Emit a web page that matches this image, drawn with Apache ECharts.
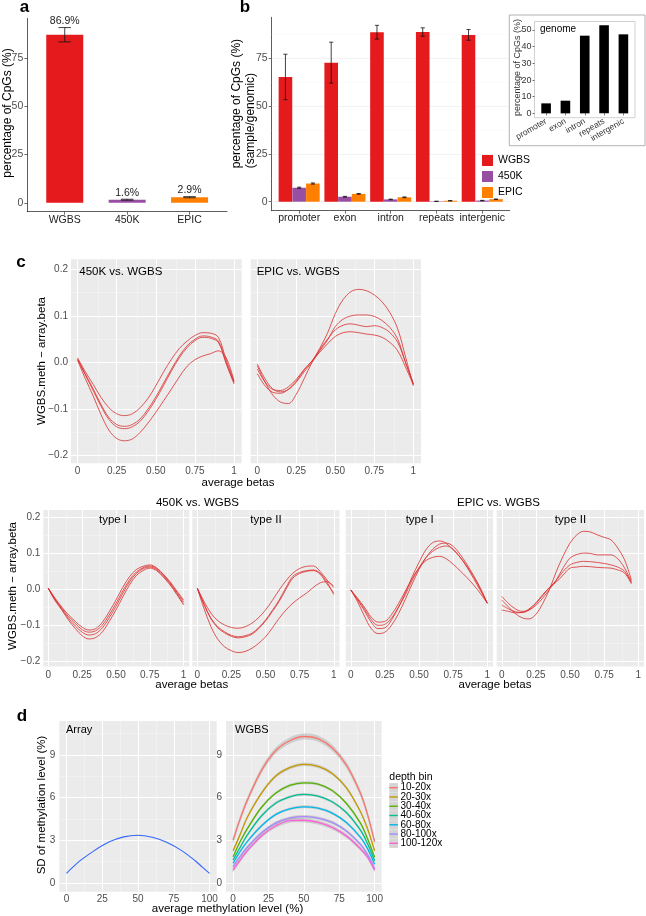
<!DOCTYPE html>
<html><head><meta charset="utf-8">
<script src="https://cdn.jsdelivr.net/npm/echarts/dist/echarts.min.js"></script>
<style>html,body{margin:0;padding:0;background:#fff}#c{width:646px;height:916px}</style>
</head><body><div id="c"></div>
<script>
// ---------------- DATA ----------------
const catA = ['WGBS', '450K', 'EPIC'];
const pctA = [86.9, 1.6, 2.9];
const errA = [3.7, 0.25, 0.3];

const regionsB = ['promoter', 'exon', 'intron', 'repeats', 'intergenic'];
const wgbsB = [65.2, 72.7, 88.6, 88.7, 87.2];
const wgbsErrB = [11.9, 10.7, 3.6, 2.2, 2.8];
const k450B = [7.3, 2.6, 1.2, 0.2, 0.6];
const k450ErrB = [0.3, 0.2, 0.15, 0.05, 0.1];
const epicB = [9.5, 4.1, 2.3, 0.5, 1.3];
const epicErrB = [0.3, 0.2, 0.2, 0.1, 0.1];
const genomeB = [6.0, 7.6, 46.6, 52.8, 47.4];

const betaX = [0,0.05,0.1,0.15,0.2,0.25,0.3,0.35,0.4,0.45,0.5,0.55,0.6,0.65,0.7,0.75,0.8,0.85,0.9,0.95,1.0];
const betaTicks = [0, 0.25, 0.5, 0.75, 1];
const betaTickLabels = ['0', '0.25', '0.50', '0.75', '1'];
const diffTicks = [-0.2, -0.1, 0, 0.1, 0.2];
const diffTickLabels = ['\u22120.2', '\u22120.1', '0.0', '0.1', '0.2'];

const k450All = [
  [0.010,-0.020,-0.047,-0.075,-0.097,-0.110,-0.114,-0.110,-0.097,-0.077,-0.050,-0.020,0.007,0.030,0.046,0.058,0.064,0.063,0.054,0.005,-0.040],
  [0.008,-0.025,-0.057,-0.090,-0.118,-0.133,-0.137,-0.133,-0.121,-0.100,-0.074,-0.044,-0.014,0.014,0.036,0.050,0.057,0.055,0.046,0.000,-0.043],
  [0.006,-0.027,-0.060,-0.094,-0.122,-0.138,-0.142,-0.138,-0.126,-0.105,-0.079,-0.049,-0.018,0.010,0.032,0.047,0.054,0.052,0.043,-0.003,-0.046],
  [0.005,-0.035,-0.072,-0.112,-0.145,-0.163,-0.168,-0.164,-0.150,-0.130,-0.107,-0.082,-0.057,-0.031,-0.008,0.006,0.014,0.019,0.025,0.010,-0.040]
];
const epicAll = [
  [-0.007,-0.042,-0.070,-0.085,-0.088,-0.068,-0.035,0.000,0.030,0.063,0.105,0.135,0.152,0.157,0.154,0.145,0.130,0.107,0.072,0.012,-0.050],
  [-0.003,-0.035,-0.057,-0.063,-0.058,-0.042,-0.020,0.000,0.025,0.048,0.077,0.093,0.100,0.102,0.102,0.099,0.090,0.075,0.050,0.000,-0.046],
  [-0.014,-0.042,-0.058,-0.060,-0.052,-0.036,-0.015,0.003,0.028,0.050,0.070,0.080,0.083,0.080,0.077,0.079,0.075,0.064,0.043,0.000,-0.045],
  [-0.024,-0.050,-0.064,-0.066,-0.057,-0.040,-0.016,0.003,0.022,0.040,0.056,0.064,0.066,0.064,0.061,0.059,0.054,0.043,0.025,-0.010,-0.048]
];
const k450TypeI = [
  [0.003,-0.025,-0.050,-0.072,-0.090,-0.106,-0.114,-0.110,-0.092,-0.063,-0.030,0.005,0.035,0.055,0.064,0.068,0.060,0.042,0.021,-0.005,-0.030],
  [0.003,-0.027,-0.053,-0.077,-0.096,-0.113,-0.120,-0.116,-0.100,-0.072,-0.040,-0.005,0.026,0.048,0.060,0.065,0.058,0.040,0.018,-0.008,-0.035],
  [0.002,-0.030,-0.056,-0.082,-0.103,-0.120,-0.128,-0.124,-0.108,-0.080,-0.048,-0.012,0.020,0.044,0.057,0.062,0.055,0.037,0.015,-0.012,-0.040],
  [0.002,-0.032,-0.058,-0.087,-0.110,-0.130,-0.139,-0.135,-0.119,-0.090,-0.058,-0.022,0.012,0.038,0.052,0.059,0.052,0.034,0.012,-0.015,-0.044]
];
const k450TypeII = [
  [0.003,-0.035,-0.067,-0.088,-0.100,-0.107,-0.109,-0.105,-0.095,-0.079,-0.058,-0.031,-0.002,0.024,0.045,0.058,0.064,0.065,0.050,0.026,0.005],
  [0.003,-0.042,-0.081,-0.105,-0.119,-0.129,-0.133,-0.130,-0.123,-0.107,-0.086,-0.059,-0.030,0.005,0.036,0.047,0.052,0.054,0.045,0.020,-0.015],
  [0.002,-0.044,-0.083,-0.108,-0.122,-0.132,-0.136,-0.133,-0.126,-0.110,-0.089,-0.062,-0.034,0.000,0.031,0.044,0.050,0.052,0.042,0.015,-0.010],
  [0.002,-0.055,-0.105,-0.140,-0.161,-0.172,-0.177,-0.174,-0.165,-0.151,-0.133,-0.108,-0.081,-0.058,-0.039,-0.024,-0.011,0.005,0.018,0.021,0.008]
];
const epicTypeI = [
  [-0.002,-0.030,-0.060,-0.092,-0.110,-0.108,-0.085,-0.050,-0.010,0.035,0.075,0.110,0.130,0.135,0.128,0.110,0.090,0.065,0.035,0.000,-0.039],
  [-0.002,-0.035,-0.075,-0.110,-0.124,-0.120,-0.100,-0.068,-0.028,0.015,0.055,0.088,0.112,0.126,0.129,0.120,0.098,0.070,0.038,0.003,-0.039],
  [-0.002,-0.028,-0.055,-0.085,-0.101,-0.098,-0.080,-0.050,-0.015,0.025,0.060,0.088,0.106,0.117,0.121,0.112,0.090,0.062,0.030,-0.004,-0.039],
  [-0.002,-0.025,-0.050,-0.078,-0.092,-0.090,-0.070,-0.040,-0.005,0.030,0.060,0.080,0.089,0.092,0.085,0.070,0.052,0.033,0.012,-0.012,-0.039]
];
const epicTypeII = [
  [-0.030,-0.050,-0.068,-0.080,-0.083,-0.070,-0.040,0.000,0.050,0.093,0.129,0.152,0.162,0.160,0.152,0.145,0.138,0.115,0.082,0.025],
  [-0.020,-0.040,-0.055,-0.062,-0.058,-0.045,-0.025,0.000,0.026,0.060,0.087,0.097,0.101,0.100,0.096,0.096,0.096,0.085,0.059,0.020],
  [-0.044,-0.055,-0.063,-0.065,-0.058,-0.040,-0.018,0.005,0.025,0.050,0.068,0.075,0.078,0.077,0.075,0.072,0.068,0.062,0.050,0.018],
  [-0.058,-0.062,-0.066,-0.065,-0.055,-0.038,-0.015,0.005,0.020,0.040,0.059,0.062,0.064,0.063,0.061,0.060,0.059,0.054,0.045,0.015]
];

const methX = [0,5,10,20,30,40,50,60,70,80,90,95,100];
const methTicks = [0, 25, 50, 75, 100];
const sdTicks = [0, 3, 6, 9];
const arraySD = [0.66,1.15,1.59,2.30,2.88,3.23,3.35,3.20,2.85,2.30,1.55,1.10,0.66];
const depthBins = ['10-20x','20-30x','30-40x','40-60x','60-80x','80-100x','100-120x'];
const depthSD = [
  [3.00,4.50,5.80,7.90,9.30,10.00,10.30,10.15,9.50,8.30,6.30,4.80,2.90],
  [2.25,3.40,4.60,6.30,7.50,8.10,8.34,8.20,7.70,6.70,5.00,3.80,2.25],
  [1.83,2.90,3.80,5.30,6.30,6.85,7.04,6.95,6.50,5.60,4.20,3.10,1.80],
  [1.60,2.50,3.35,4.70,5.60,6.05,6.22,6.10,5.70,4.95,3.70,2.75,1.55],
  [1.37,2.20,2.90,4.00,4.80,5.20,5.35,5.25,4.90,4.25,3.20,2.40,1.30],
  [1.13,1.85,2.50,3.50,4.20,4.55,4.65,4.55,4.25,3.65,2.70,2.00,1.00],
  [0.90,1.60,2.25,3.30,4.00,4.38,4.40,4.25,3.90,3.30,2.40,1.80,0.90]
];
const depthCI = [0.22, 0.12, 0.1, 0.1, 0.1, 0.12, 0.15];

// ---------------- STYLE ----------------
const FONT = "'Liberation Sans', Arial, Helvetica, sans-serif";
const TICK = '#4D4D4D';
const colA = ['#E41A1C', '#984EA3', '#FF7F00'];
const depthCol = ['#F8766D','#C49A00','#53B400','#00C094','#00B6EB','#A58AFF','#FB61D7'];
const RED = '#DA2C2C';

const grids = [], xAxis = [], yAxis = [], series = [], graphic = [];

function lab(vals, labels, o) {
  return Object.assign({show: true, customValues: vals, color: TICK, fontSize: 10, fontFamily: FONT, margin: 4,
    formatter: function (v) { const i = vals.findIndex(t => Math.abs(t - v) < 1e-9); return i >= 0 ? labels[i] : ''; }}, o || {});
}
function tck(vals, o) {
  return Object.assign({show: true, customValues: vals, length: 3, inside: false, lineStyle: {color: '#333', width: 0.7}}, o || {});
}
function ax(min, max, o) {
  return Object.assign({type: 'value', min: min, max: max, splitLine: {show: false}, axisLine: {show: false},
    axisTick: {show: false}, axisLabel: {show: false}, minorTick: {show: false}, minorSplitLine: {show: false}}, o || {});
}
function addGrid(box, xa, ya, g) {
  const i = grids.length;
  grids.push(Object.assign({left: box[0], top: box[1], width: box[2], height: box[3], containLabel: false,
    outerBoundsMode: 'none', show: false, z: 0}, g || {}));
  xa.gridIndex = i; ya.gridIndex = i;
  xAxis.push(xa); yAxis.push(ya);
  return i;
}
const axLine = {show: true, onZero: false, lineStyle: {color: '#333', width: 0.8}};
function gridLines(i, xMaj, xMin, yMaj, yMin, cMaj, cMin, wMaj, wMin) {
  const d = [];
  xMin.forEach(v => d.push({xAxis: v, lineStyle: {color: cMin, width: wMin, type: 'solid'}}));
  yMin.forEach(v => d.push({yAxis: v, lineStyle: {color: cMin, width: wMin, type: 'solid'}}));
  xMaj.forEach(v => d.push({xAxis: v, lineStyle: {color: cMaj, width: wMaj, type: 'solid'}}));
  yMaj.forEach(v => d.push({yAxis: v, lineStyle: {color: cMaj, width: wMaj, type: 'solid'}}));
  series.push({type: 'line', xAxisIndex: i, yAxisIndex: i, data: [], z: 1, silent: true,
    markLine: {z: 1, zlevel: 0, silent: true, symbol: ['none', 'none'], label: {show: false}, animation: false, data: d}});
}
function curve(i, xs, ys, color, w, z) {
  series.push({type: 'line', xAxisIndex: i, yAxisIndex: i, data: ys.map((y, k) => [xs[k], y]),
    showSymbol: false, symbol: 'none', smooth: 0.35, silent: true, z: z || 6,
    lineStyle: {color: color, width: w}, emphasis: {disabled: true}});
}
function errBars(i, xs, mid, err, capW, labels) {
  series.push({type: 'custom', xAxisIndex: i, yAxisIndex: i, z: 5, silent: true,
    data: xs.map((x, k) => [x, mid[k] - err[k], mid[k] + err[k]]),
    encode: {x: 0, y: [1, 2]},
    renderItem: function (params, api) {
      const x = api.value(0), lo = api.value(1), hi = api.value(2);
      const p1 = api.coord([x, lo]), p2 = api.coord([x, hi]);
      const hw = api.size([capW, 0])[0] / 2;
      const st = {stroke: '#111', lineWidth: 0.8};
      const ch = [
        {type: 'line', shape: {x1: p1[0], y1: p1[1], x2: p2[0], y2: p2[1]}, style: st},
        {type: 'line', shape: {x1: p1[0] - hw, y1: p1[1], x2: p1[0] + hw, y2: p1[1]}, style: st},
        {type: 'line', shape: {x1: p2[0] - hw, y1: p2[1], x2: p2[0] + hw, y2: p2[1]}, style: st}
      ];
      if (labels) ch.push({type: 'text', x: p2[0], y: p2[1] - 6.5,
        style: {text: labels[params.dataIndex], fill: '#222', fontSize: 10.5, fontFamily: FONT,
          align: 'center', textAlign: 'center', verticalAlign: 'middle', textVerticalAlign: 'middle'}});
      return {type: 'group', children: ch};
    }});
}
function txt(t, x, y, o) {
  o = o || {};
  graphic.push({type: 'text', x: x, y: y, rotation: o.rot || 0, z: 100, silent: true,
    style: {text: t, fill: o.color || '#000', fontSize: o.size || 11.5, fontFamily: FONT, fontWeight: o.weight || 'normal',
      align: o.align || 'center', textAlign: o.align || 'center', verticalAlign: 'middle', textVerticalAlign: 'middle'}});
}
const ROT = Math.PI / 2;

// ---------- panel a ----------
const gA = addGrid([27.3, 18.3, 199.7, 193.4],
  ax(0.4, 3.6, {axisLine: axLine, axisTick: tck([1, 2, 3]), axisLabel: lab([1, 2, 3], catA, {margin: 3, color: '#222', fontSize: 10.5})}),
  ax(-4.6, 95.4, {axisLine: axLine, axisTick: tck([0, 25, 50, 75]), axisLabel: lab([0, 25, 50, 75], ['0', '25', '50', '75'], {fontSize: 10.5})}));
series.push({type: 'bar', name: 'CpG coverage', xAxisIndex: gA, yAxisIndex: gA, barWidth: 37, z: 3, silent: true,
  data: pctA.map((v, k) => ({value: [k + 1, v], itemStyle: {color: colA[k]}}))});
errBars(gA, [1, 2, 3], pctA, errA, 0.2, pctA.map(v => v.toFixed(1) + '%'));

// ---------- panel b ----------
const posB = regionsB.map((r, k) => k + 1);
const gB = addGrid([271.7, 17.3, 238, 193.4],
  ax(0.4, 5.6, {axisLine: axLine, axisTick: tck(posB), axisLabel: lab(posB, regionsB, {margin: 2, color: '#222', fontSize: 10.5})}),
  ax(-4.7, 96.4, {axisLine: axLine, axisTick: tck([0, 25, 50, 75]), axisLabel: lab([0, 25, 50, 75], ['0', '25', '50', '75'], {fontSize: 10.5})}));
gridLines(gB, [], [], [0, 25, 50, 75], [12.5, 37.5, 62.5, 87.5], '#EDEDED', '#F6F6F6', 0.7, 0.5);
[['WGBS', wgbsB, -0.3, wgbsErrB], ['450K', k450B, 0, k450ErrB], ['EPIC', epicB, 0.3, epicErrB]].forEach((s, j) => {
  series.push({type: 'bar', name: s[0], xAxisIndex: gB, yAxisIndex: gB, barWidth: 13.6, barGap: '-100%', z: 3, silent: true,
    itemStyle: {color: colA[j]}, data: s[1].map((v, k) => [posB[k] + s[2], v])});
  errBars(gB, posB.map(p => p + s[2]), s[1], s[3], 0.09, null);
});

// ---------- inset genome ----------
graphic.push({type: 'rect', z: 50, silent: true, shape: {x: 509.3, y: 15, width: 135.7, height: 130.7},
  style: {fill: 'none', stroke: '#A0A0A0', lineWidth: 0.8}});
const gI = addGrid([534.5, 21.5, 100.5, 96.2],
  ax(0.4, 5.6, {axisTick: tck(posB, {length: 2}), axisLabel: lab(posB, regionsB, {rotate: 30, fontSize: 8.5, margin: 3, color: '#333'})}),
  ax(-2.6, 55.1, {axisTick: tck([0, 10, 20, 30, 40, 50], {length: 2}), axisLabel: lab([0, 10, 20, 30, 40, 50], ['0', '10', '20', '30', '40', '50'], {fontSize: 9, margin: 3, color: '#333'})}),
  {show: true, backgroundColor: 'transparent', borderColor: '#BDBDBD', borderWidth: 0.7});
series.push({type: 'bar', name: 'genome', xAxisIndex: gI, yAxisIndex: gI, barWidth: 9.6, z: 3, silent: true,
  itemStyle: {color: '#000'}, data: genomeB.map((v, k) => [posB[k], v])});

// ---------- panel c (top) ----------
const cBoxTop = [[71, 259.3, 170.7, 204], [250.7, 259.3, 170.3, 204]];
const cTopData = [k450All, epicAll];
cBoxTop.forEach((b, j) => {
  const g = addGrid(b,
    ax(-0.042, 1.049, {axisTick: tck(betaTicks, {length: 2}), axisLabel: lab(betaTicks, betaTickLabels, {margin: 3})}),
    ax(-0.2163, 0.2215, j === 0 ? {axisTick: tck(diffTicks, {length: 2}), axisLabel: lab(diffTicks, diffTickLabels, {margin: 3})} : {}),
    {show: true, backgroundColor: '#EBEBEB', borderWidth: 0});
  gridLines(g, betaTicks, [0.125, 0.375, 0.625, 0.875], diffTicks, [-0.15, -0.05, 0.05, 0.15], '#FFFFFF', '#F6F6F6', 1, 0.5);
  cTopData[j].forEach(ys => curve(g, betaX, ys, RED, 0.8));
});

// ---------- panel c (bottom) ----------
const cBoxBot = [[43.3, 510, 146, 156.6], [192.3, 510, 147.2, 156.6], [345.7, 510, 147.3, 156.6], [496.7, 510, 147.3, 156.6]];
const cBotData = [k450TypeI, k450TypeII, epicTypeI, epicTypeII];
cBoxBot.forEach((b, j) => {
  const g = addGrid(b,
    ax(-0.037, 1.042, {axisTick: tck(betaTicks, {length: 2}), axisLabel: lab(betaTicks, betaTickLabels, {margin: 4})}),
    ax(-0.2163, 0.2215, j === 0 ? {axisTick: tck(diffTicks, {length: 2}), axisLabel: lab(diffTicks, diffTickLabels, {margin: 3})} : {}),
    {show: true, backgroundColor: '#EBEBEB', borderWidth: 0});
  gridLines(g, betaTicks, [0.125, 0.375, 0.625, 0.875], diffTicks, [-0.15, -0.05, 0.05, 0.15], '#FFFFFF', '#F6F6F6', 1, 0.5);
  cBotData[j].forEach(ys => curve(g, betaX, ys, RED, 0.8));
});

// ---------- panel d ----------
const dBox = [[59.3, 721, 157.4, 170.7], [226, 721, 155.7, 170.7]];
const gD = dBox.map(b => {
  const g = addGrid(b,
    ax(-5, 105, {axisTick: tck(methTicks, {length: 2}), axisLabel: lab(methTicks, methTicks.map(String), {margin: 3})}),
    ax(-0.63, 11.39, {axisTick: tck(sdTicks, {length: 2}), axisLabel: lab(sdTicks, sdTicks.map(String), {margin: 4})}),
    {show: true, backgroundColor: '#EBEBEB', borderWidth: 0});
  gridLines(g, methTicks, [12.5, 37.5, 62.5, 87.5], sdTicks, [1.5, 4.5, 7.5, 10.5], '#FFFFFF', '#F6F6F6', 1, 0.5);
  return g;
});
curve(gD[0], methX, arraySD, '#3366FF', 1.1);
depthBins.forEach((name, k) => {
  const vals = depthSD[k], h = depthCI[k];
  series.push({type: 'custom', xAxisIndex: gD[1], yAxisIndex: gD[1], z: 4, silent: true,
    data: methX.map((x, j) => [x, vals[j] - h, vals[j] + h]), encode: {x: 0, y: [1, 2]},
    renderItem: function (params, api) {
      if (params.dataIndex !== 0) return null;
      const up = [], lo = [];
      for (let j = 0; j < methX.length; j++) {
        up.push(api.coord([methX[j], vals[j] + h]));
        lo.push(api.coord([methX[j], vals[j] - h]));
      }
      return {type: 'polygon', shape: {points: up.concat(lo.reverse()), smooth: 0.3},
        style: {fill: 'rgba(150,150,150,0.35)', stroke: 'none'}};
    }});
  curve(gD[1], methX, vals, depthCol[k], 1.3, 7);
});
// depth legend
txt('depth bin', 389.3, 776.7, {align: 'left', size: 10.5});
depthBins.forEach((name, k) => {
  const yy = 787.7 + k * 9.27;
  graphic.push({type: 'rect', z: 100, silent: true, shape: {x: 389.3, y: yy - 4.6, width: 8.6, height: 9.2}, style: {fill: '#D4D4D4'}});
  graphic.push({type: 'line', z: 101, silent: true, shape: {x1: 389.3, y1: yy, x2: 397.9, y2: yy}, style: {stroke: depthCol[k], lineWidth: 1.4}});
  txt(name, 400.5, yy, {align: 'left', size: 10});
});

// ---------- texts ----------
txt('a', 24.5, 7.5, {size: 17, weight: 'bold'});
txt('b', 245, 7.5, {size: 17, weight: 'bold'});
txt('c', 21, 262.5, {size: 17, weight: 'bold'});
txt('d', 22, 716, {size: 17, weight: 'bold'});
txt('percentage of CpGs (%)', 8, 113, {rot: ROT, size: 12});
txt('percentage of CpGs (%)', 236.7, 168.3, {rot: ROT, size: 12, align: 'left'});
txt('(sample/genomic)', 251, 168.3, {rot: ROT, size: 12, align: 'left'});
txt('genome', 540, 29.5, {align: 'left', size: 10});
txt('percentage of CpGs (%)', 518, 67.5, {rot: ROT, size: 9, color: '#333'});
txt('450K vs. WGBS', 79.3, 271.7, {align: 'left'});
txt('EPIC vs. WGBS', 256.7, 271.7, {align: 'left'});
txt('WGBS.meth \u2212 array.beta', 41.7, 361, {rot: ROT});
txt('average betas', 238, 482.7);
txt('450K vs. WGBS', 197.5, 503.3);
txt('EPIC vs. WGBS', 498.5, 503.3);
txt('type I', 113, 520);
txt('type II', 266, 520);
txt('type I', 419.7, 520);
txt('type II', 570.5, 520);
txt('WGBS.meth \u2212 array.beta', 13, 586, {rot: ROT});
txt('average betas', 191.7, 684.5);
txt('average betas', 495, 684.5);
txt('Array', 66, 730, {align: 'left', size: 11});
txt('WGBS', 235, 730, {align: 'left', size: 11});
txt('SD of methylation level (%)', 41.7, 805, {rot: ROT});
txt('average methylation level (%)', 227.5, 909.3);

const chart = echarts.init(document.getElementById('c'), null, {renderer: 'canvas'});
chart.setOption({
  animation: false,
  backgroundColor: '#fff',
  textStyle: {fontFamily: FONT},
  grid: grids, xAxis: xAxis, yAxis: yAxis, series: series, graphic: graphic,
  legend: [{data: ['WGBS', '450K', 'EPIC'], orient: 'vertical', left: 482, top: 155, itemWidth: 11, itemHeight: 11,
    itemGap: 5, icon: 'rect', padding: 0, selectedMode: false, textStyle: {fontSize: 10.5, color: '#000', fontFamily: FONT}}]
});
</script></body></html>
